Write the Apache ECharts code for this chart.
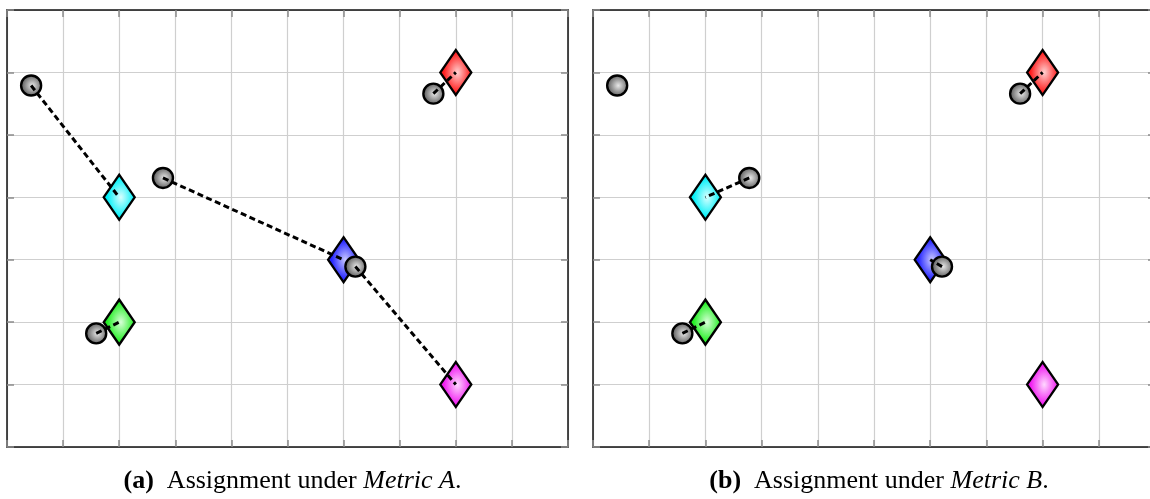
<!DOCTYPE html>
<html>
<head>
<meta charset="utf-8">
<script src="https://cdn.jsdelivr.net/npm/echarts@6/dist/echarts.min.js"></script>
<style>
  html, body { margin: 0; padding: 0; background: #fff; overflow: hidden; }
  #chart { width: 1160px; height: 499px; }
</style>
</head>
<body>
<div id="chart"></div>
<script>
// Targets (diamonds): cyan, green, blue, red, magenta
const targetX = [2, 2, 6, 8, 8];
const targetY = [4, 2, 3, 6, 1];
// Agents (grey discs)
const agentX = [0.43, 2.78, 6.21, 1.59, 7.6];
const agentY = [5.79, 4.31, 2.89, 1.82, 5.66];
// Target index each agent is assigned to (null = unassigned)
const assignA = [0, 2, 4, 1, 3];
const assignB = [null, 0, 2, 1, 3];
// Panel captions
const captions = [
  { tag: '(a)', text: 'Assignment under ', metric: 'Metric A', end: '.' },
  { tag: '(b)', text: 'Assignment under ', metric: 'Metric B', end: '.' }
];

const targetPalette = [
  ['#d8ffff', '#00f0f8'],
  ['#d8ffd8', '#22ee22'],
  ['#c8c8ff', '#2424ff'],
  ['#ffd0d0', '#ff1e1e'],
  ['#ffd8ff', '#f01cf0']
];

function radial(inner, outer) {
  return new echarts.graphic.RadialGradient(0.55, 0.5, 0.55, [
    { offset: 0, color: inner },
    { offset: 0.75, color: outer },
    { offset: 1, color: outer }
  ]);
}

const grids = [
  { left: 7, top: 10, width: 561, height: 437 },
  { left: 593, top: 10, width: 562, height: 437 }
];

const xAxes = [], yAxes = [], series = [];
const tick = { show: true, inside: true, length: 7, lineStyle: { color: '#8c8c8c', width: 1.5 } };
const border = { show: true, onZero: false, lineStyle: { color: '#111', width: 1.5 } };
const split = { show: true, lineStyle: { color: '#cfcfcf', width: 1.2 } };

grids.forEach((g, gi) => {
  ['bottom', 'top'].forEach((pos, k) => {
    xAxes.push({
      type: 'value', gridIndex: gi, position: pos, min: 0, max: 10, interval: 1,
      axisLine: border, axisTick: tick, axisLabel: { show: false },
      splitLine: k === 0 ? split : { show: false }
    });
  });
  ['left', 'right'].forEach((pos, k) => {
    yAxes.push({
      type: 'value', gridIndex: gi, position: pos, min: 0, max: 7, interval: 1,
      axisLine: border, axisTick: tick, axisLabel: { show: false },
      splitLine: k === 0 ? split : { show: false }
    });
  });

  const xi = gi * 2, yi = gi * 2;

  series.push({
    type: 'scatter', xAxisIndex: xi, yAxisIndex: yi, z: 2,
    symbol: 'diamond', symbolSize: [31, 45],
    data: targetX.map((x, i) => ({
      value: [x, targetY[i]],
      itemStyle: { color: radial(targetPalette[i][0], targetPalette[i][1]), borderColor: '#000', borderWidth: 2.4, opacity: 1 }
    })),
    emphasis: { disabled: true }, silent: true
  });

  series.push({
    type: 'scatter', xAxisIndex: xi, yAxisIndex: yi, z: 3,
    symbol: 'circle', symbolSize: 20,
    data: agentX.map((x, i) => ({
      value: [x, agentY[i]],
      itemStyle: { color: radial('#e8e8e8', '#727272'), borderColor: '#000', borderWidth: 2.4, opacity: 1 }
    })),
    emphasis: { disabled: true }, silent: true
  });

  const assign = gi === 0 ? assignA : assignB;
  assign.forEach((t, a) => {
    if (t === null) return;
    series.push({
      type: 'line', xAxisIndex: xi, yAxisIndex: yi, z: 4,
      symbol: 'none', silent: true, animation: false,
      lineStyle: { color: '#000', width: 3, type: [6, 3.5], cap: 'butt' },
      data: [[agentX[a], agentY[a]], [targetX[t], targetY[t]]]
    });
  });
});

const captionFont = '"Liberation Serif", "DejaVu Serif", serif';
const titles = captions.map((c, i) => ({
  left: (grids[i].left + grids[i].width / 2),
  textAlign: 'center',
  top: 463,
  text: '{b|' + c.tag + '}{n|  ' + c.text + '}{i|' + c.metric + '}{n|' + c.end + '}',
  textStyle: {
    fontWeight: 'normal',
    rich: {
      b: { fontFamily: captionFont, fontSize: 26, fontWeight: 'bold', color: '#000' },
      n: { fontFamily: captionFont, fontSize: 26, fontWeight: 'normal', color: '#000' },
      i: { fontFamily: captionFont, fontSize: 26, fontWeight: 'normal', fontStyle: 'italic', color: '#000' }
    }
  }
}));

const chart = echarts.init(document.getElementById('chart'), null, { renderer: 'canvas' });
chart.setOption({
  animation: false,
  backgroundColor: '#fff',
  title: titles,
  grid: grids,
  xAxis: xAxes,
  yAxis: yAxes,
  series: series
});
</script>
</body>
</html>
